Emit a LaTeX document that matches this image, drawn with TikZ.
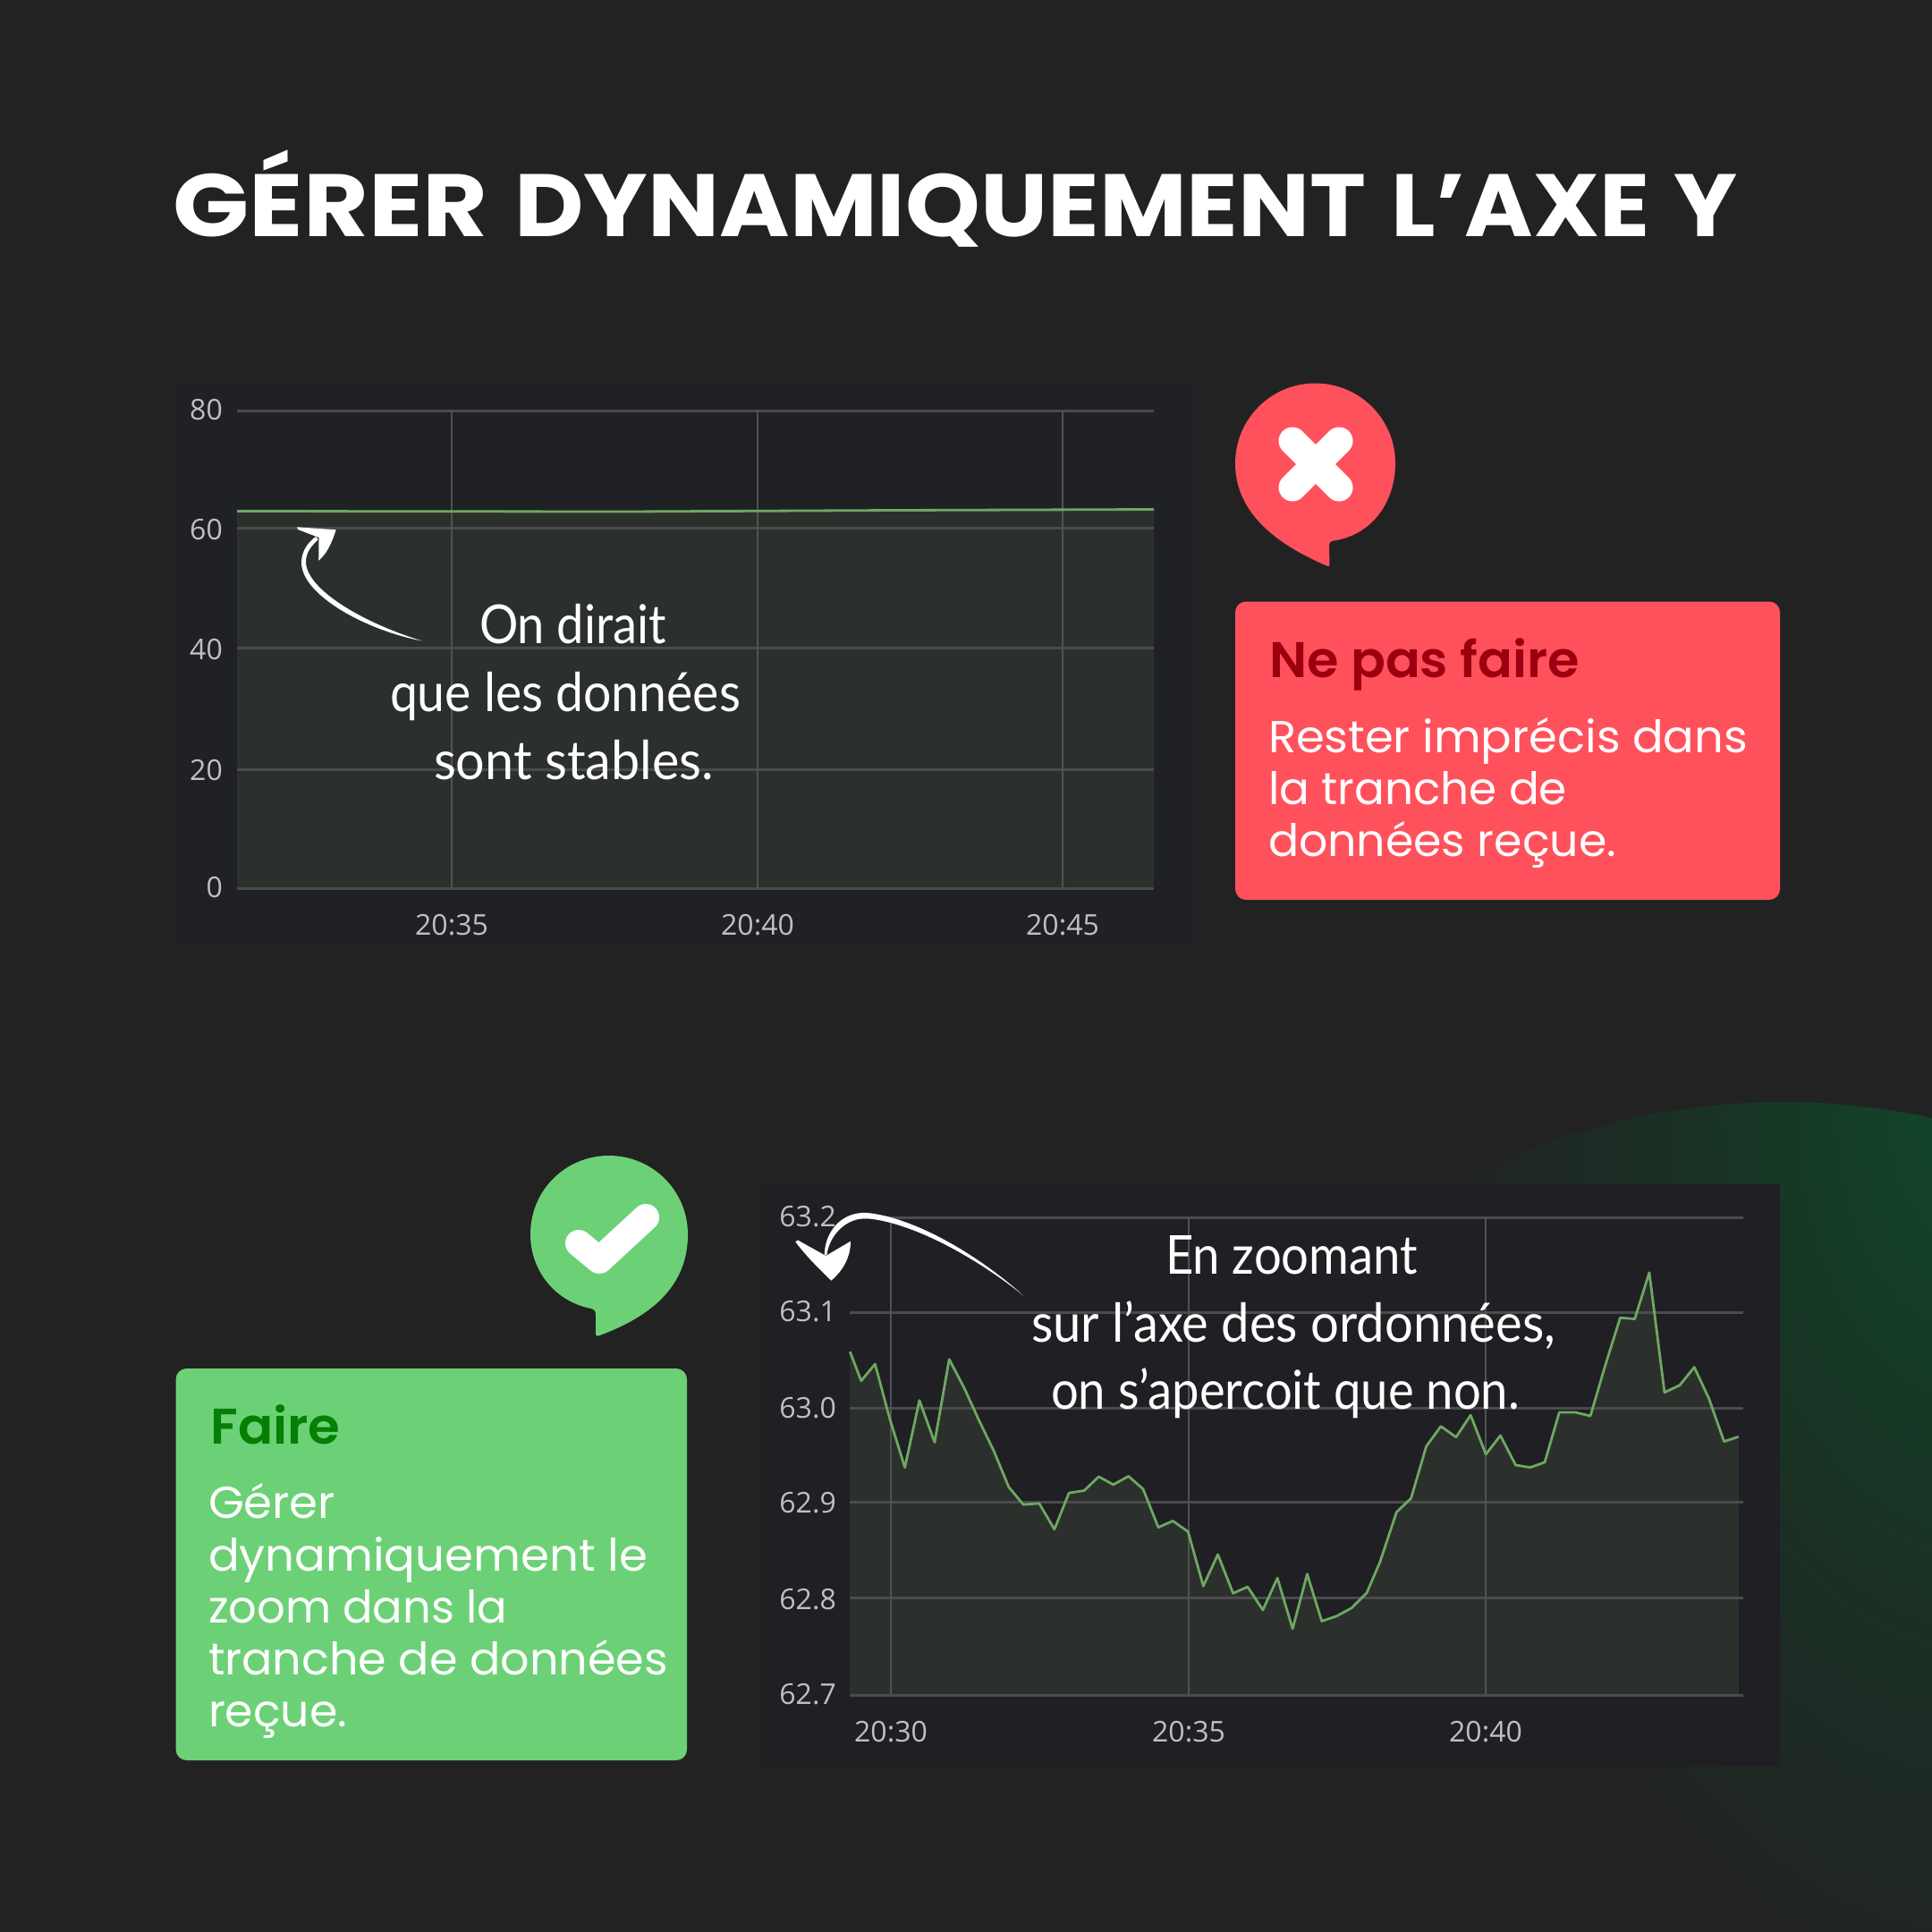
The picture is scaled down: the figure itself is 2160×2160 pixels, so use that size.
\documentclass[tikz,border=0pt]{standalone}
\usepackage{graphicx}
\usepackage{fontspec}
\setmainfont{Poppins}
\newfontfamily\titlef{Poppins Bold}
\newfontfamily\headf{Poppins SemiBold}
\newfontfamily\bodyf{Poppins}
\newfontfamily\handf{Lato}
\newfontfamily\chartf{Open Sans}
\newcommand\fitw[2]{\resizebox{#1pt}{\height}{#2}}
\definecolor{bg}{HTML}{222222}
\definecolor{panelA}{HTML}{202125}
\definecolor{panelB}{HTML}{1F1F24}
\definecolor{areafill}{HTML}{2C302C}
\definecolor{gridc}{HTML}{4A4B4D}
\definecolor{gridv}{HTML}{505253}
\definecolor{linec}{HTML}{6EA862}
\definecolor{labelc}{HTML}{C0C0C0}
\definecolor{redc}{HTML}{FF515C}
\definecolor{redd}{HTML}{9C000F}
\definecolor{greenc}{HTML}{6CD176}
\definecolor{greend}{HTML}{048004}
\definecolor{glowa}{HTML}{12472B}
\definecolor{glowb}{HTML}{163825}
\definecolor{glowc}{HTML}{1B2E24}
\definecolor{glowd}{HTML}{202523}
\pgfdeclareradialshading{glow}{\pgfpoint{0bp}{0bp}}{color(0bp)=(glowa); color(8.75bp)=(glowb); color(15bp)=(glowc); color(22.5bp)=(glowd); color(25bp)=(bg); color(50bp)=(bg)}
\tikzset{
  txt/.style={anchor=base west,inner sep=0pt,outer sep=0pt,text=white},
  ylab/.style={anchor=east,inner sep=0pt,text=labelc,font=\chartf\fontsize{32}{32}\selectfont},
  xlab/.style={anchor=center,inner sep=0pt,text=labelc,font=\chartf\fontsize{32}{32}\selectfont},
  hand/.style={txt,font=\handf\fontsize{60}{60}\selectfont},
  head/.style={txt,font=\headf\fontsize{56}{56}\selectfont},
  body/.style={txt,font=\bodyf\fontsize{50}{50}\selectfont},
  gridh/.style={draw=gridc,line width=3pt},
  gridvv/.style={draw=gridv,line width=2pt},
  dataline/.style={draw=linec,line width=2.8pt,line join=round},
}
\begin{document}
\begin{tikzpicture}[x=1pt,y=-1pt]
\useasboundingbox (0,0) rectangle (2160,2160);
\fill[bg] (0,0) rectangle (2160,2160);
% glow
\begin{scope}
  \clip (1993,2012) circle[radius=780];
  \shade[shading=glow] (1600,180) rectangle (2800,2280);
\end{scope}
% title
\node[txt,font=\titlef\fontsize{99}{99}\selectfont] (title) at (193.5,264) {\fitw{352}{GÉRER}\hspace{30pt}\fitw{952}{DYNAMIQUEMENT}\hspace{28pt}\fitw{289}{L’AXE}\hspace{27pt}\fitw{71}{Y}};
% top chart
\fill[panelA] (194,425) rectangle (1335,1060);
\fill[areafill] (265,993) -- (265,571.5) -- (700,572) -- (1000,570.5) -- (1290,569.5) -- (1290,993) -- cycle;
\foreach \yy in {459,590.5,724.5,860,993} \draw[gridh] (265,\yy) -- (1290,\yy);
\foreach \xx in {505,847,1188} \draw[gridvv] (\xx,459) -- (\xx,993);
\draw[dataline] (265,571.5) -- (700,572) -- (1000,570.5) -- (1290,569.5);
\node[ylab] (ya80) at (249,458) {80};
\node[ylab] (ya60) at (249,592) {60};
\node[ylab] (ya40) at (249,726) {40};
\node[ylab] (ya20) at (249,861) {20};
\node[ylab] (ya0) at (249,992) {0};
\node[xlab] (xa35) at (505,1034.5) {20:35};
\node[xlab] (xa40) at (847,1034.5) {20:40};
\node[xlab] (xa45) at (1188,1034.5) {20:45};
\node[hand] (t1a) at (536,719) {\fitw{209}{On dirait}};
\node[hand] (t1b) at (436,795) {\fitw{392}{que les données}};
\node[hand] (t1c) at (485,871) {\fitw{313}{sont stables.}};
% arrow 1
\fill[white] (472,716.5) .. controls (410,705) and (336,665) .. (337,628) .. controls (337.5,615) and (345,606) .. (353,600) -- (356,603) .. controls (348,610) and (342,618) .. (342,628) .. controls (342,660) and (410,698) .. (472,716.5) -- cycle;
\fill[white] (332.3,589.3) -- (375.7,592.3) .. controls (371,607) and (365,620) .. (356,626.7) .. controls (357,618) and (356,610) .. (356.7,601) -- (333,592) -- cycle;
% red bubble
\fill[redc] (1381,518) .. controls (1381,468.6) and (1421,428.5) .. (1470.5,428.5) .. controls (1520,428.5) and (1560,468.6) .. (1560,518) .. controls (1560,560) and (1535,598) .. (1491,604.5) .. controls (1487,605) and (1486,607) .. (1486,611) -- (1486.5,631) .. controls (1486.5,633) and (1485.5,633.5) .. (1484.5,633) .. controls (1430,610) and (1381,575) .. (1381,518) -- cycle;
\draw[white,line width=31pt,line cap=round] (1445,493) -- (1497,545);
\draw[white,line width=31pt,line cap=round] (1497,493) -- (1445,545);
% red box
\fill[redc,rounded corners=12pt] (1381,672.5) rectangle (1990,1006);
\node[head,text=redd] (h1) at (1419,757.5) {\fitw{347}{Ne pas faire}};
\node[body] (b1a) at (1418,841) {\fitw{536}{Rester imprécis dans}};
\node[body] (b1b) at (1418,899) {\fitw{334}{la tranche de}};
\node[body] (b1c) at (1418,957) {\fitw{389}{données reçue.}};
% green bubble
\fill[greenc] (769,1380) .. controls (769,1331) and (729,1292) .. (681,1292) .. controls (632,1292) and (593,1331) .. (593,1380) .. controls (593,1420) and (620,1455) .. (661,1463) .. controls (665,1464) and (666,1466) .. (666,1471) -- (666,1491) .. controls (666,1493.5) and (667,1494) .. (669,1493.5) .. controls (725,1473) and (769,1440) .. (769,1380) -- cycle;
\draw[white,line width=30pt,line cap=round,line join=round] (647,1390) -- (670,1409) -- (722,1361);
% green box
\fill[greenc,rounded corners=12pt] (196.6,1530) rectangle (768,1968);
\node[head,text=greend] (h2) at (235.5,1614) {\fitw{145}{Faire}};
\node[body] (b2a) at (233,1697) {\fitw{142}{Gérer}};
\node[body] (b2b) at (233,1756) {\fitw{491}{dynamiquement le}};
\node[body] (b2c) at (233,1814) {\fitw{334}{zoom dans la}};
\node[body] (b2d) at (233,1872) {\fitw{514}{tranche de données}};
\node[body] (b2e) at (233,1930) {\fitw{155}{reçue.}};
% bottom chart
\fill[panelB] (851,1324) rectangle (1990,1975);
\begin{scope}[shift={(840,1300)},x=0.7398pt,y=-0.4464pt]
\def\pts{(149,473) -- (166,546) -- (187,504) -- (209,640) -- (232,763) -- (254,595) -- (277,700) -- (299,492) -- (322,565) -- (344,645) -- (366,720) -- (389,812) -- (411,856) -- (435,853) -- (458,918) -- (480,827) -- (503,821) -- (525,786) -- (547,806) -- (570,785) -- (592,817) -- (615,913) -- (637,897) -- (660,924) -- (683,1060) -- (705,981) -- (728,1078) -- (750,1062) -- (773,1120) -- (795,1040) -- (818,1167) -- (840,1030) -- (862,1148) -- (885,1135) -- (907,1115) -- (930,1077) -- (950,1000) -- (975,875) -- (997,840) -- (1020,710) -- (1042,660) -- (1065,687) -- (1087,632) -- (1110,730) -- (1132,683) -- (1155,757) -- (1177,763) -- (1199,750) -- (1221,625) -- (1245,625) -- (1268,634) -- (1290,510) -- (1313,388) -- (1335,391) -- (1357,275) -- (1380,575) -- (1403,557) -- (1425,512) -- (1447,590) -- (1470,698) -- (1492,686)}
\fill[areafill] (149,1333) -- \pts -- (1492,1333) -- cycle;
\foreach \yy in {137,375,614,851,1089,1333} \draw[gridh] (149,\yy) -- (1499,\yy);
\foreach \xx in {211,661,1110} \draw[gridvv] (\xx,137) -- (\xx,1333);
\draw[dataline] \pts;
\end{scope}
\node[ylab] (yb1) at (935,1360) {63.2};
\node[ylab] (yb2) at (935,1466) {63.1};
\node[ylab] (yb3) at (935,1574) {63.0};
\node[ylab] (yb4) at (935,1680) {62.9};
\node[ylab] (yb5) at (935,1788) {62.8};
\node[ylab] (yb6) at (935,1894) {62.7};
\node[xlab] (xb30) at (996,1936) {20:30};
\node[xlab] (xb35) at (1329,1936) {20:35};
\node[xlab] (xb40) at (1661,1936) {20:40};
\node[hand] (t2a) at (1303,1424) {\fitw{282}{En zoomant}};
\node[hand] (t2b) at (1153,1500) {\fitw{586}{sur l’axe des ordonnées,}};
\node[hand] (t2c) at (1175,1575) {\fitw{524}{on s’apercoit que non.}};
% arrow 2
\fill[white] (1144,1448.3) .. controls (1090,1400) and (1020,1361) .. (970,1356) .. controls (940,1354) and (922,1378) .. (921.7,1403.3) -- (924.3,1403.3) .. controls (927,1382) and (945,1361) .. (970,1362.3) .. controls (1020,1367) and (1090,1405) .. (1144,1448.3) -- cycle;
\fill[white] (889.3,1388.3) .. controls (900,1403) and (918,1421) .. (929.3,1431.7) .. controls (943,1420) and (951,1405) .. (951,1387.7) -- (923.3,1404) -- (892,1386.5) -- cycle;
\end{tikzpicture}
\end{document}
